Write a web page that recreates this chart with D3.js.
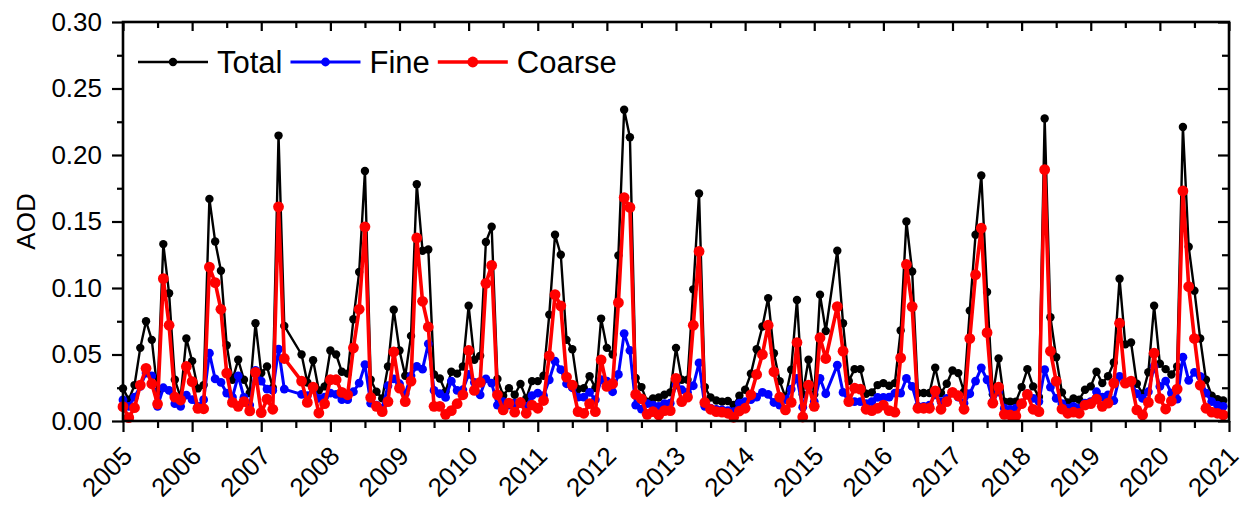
<!DOCTYPE html>
<html><head><meta charset="utf-8">
<script src="https://cdn.jsdelivr.net/npm/d3@7"></script>
<style>
body{margin:0;background:#fff}
text{font-family:"Liberation Sans",Arial,Helvetica,sans-serif;fill:#000}
</style>
</head><body>
<svg id="chart" width="1249" height="510"></svg>
<script>
// ---- data (monthly, Jan 2005 .. Dec 2020; null = no data) ----
const startYear = 2005;
const endYear = 2021;
const yTickValues = [0, 0.05, 0.10, 0.15, 0.20, 0.25, 0.30];
const xTickYears = [2005,2006,2007,2008,2009,2010,2011,2012,2013,2014,2015,2016,2017,2018,2019,2020,2021];
const seriesNames = ["Total", "Fine", "Coarse"];
const seriesColors = ["#000000", "#0000ff", "#ff0000"];

const total = [
0.0245,0.016,0.027,0.055,0.075,0.061,0.022,0.133,0.096,0.031,0.018,0.062,
0.045,0.0245,0.027,0.167,0.135,0.113,0.057,0.031,0.046,0.031,0.021,0.0735,
0.036,0.041,0.025,0.2146,0.0715,null,null,0.050,0.029,0.0457,0.023,0.026,
0.053,0.050,0.037,0.0356,0.0765,0.112,0.188,0.031,0.022,0.017,0.041,0.0836,
0.053,0.034,0.064,0.178,0.128,0.129,0.035,0.032,0.022,0.037,0.0356,0.041,
0.0866,0.046,0.049,0.1346,0.146,0.0316,0.019,0.0247,0.0197,0.0278,0.017,0.030,
0.030,0.034,0.080,0.140,0.125,0.061,0.054,0.024,0.0247,0.0336,0.0247,0.077,
0.055,0.050,0.1245,0.234,0.2134,0.0323,0.0255,0.0146,0.017,0.0177,0.0197,0.0215,
0.055,0.031,0.031,0.099,0.171,0.0255,0.0177,0.0154,0.0146,0.015,0.012,0.019,
0.0235,0.0356,0.054,0.071,0.0924,0.051,0.030,0.018,0.0386,0.091,0.020,0.046,
0.020,0.095,0.0677,null,0.128,0.0735,0.030,0.039,0.039,0.0205,0.0215,0.027,
0.0285,0.0265,0.0285,0.068,0.150,0.1124,0.021,0.021,0.021,0.040,0.021,0.028,
0.038,0.036,0.022,0.083,0.140,0.1846,0.097,0.020,0.047,0.0146,0.0146,0.0146,
0.0255,0.039,0.026,0.018,0.2275,0.078,0.048,0.0215,0.0139,0.017,0.016,0.0235,
0.026,0.037,0.0285,0.0336,0.044,0.107,0.0576,0.059,0.028,0.0205,0.0366,0.0866,
0.043,0.039,0.035,0.041,0.221,0.131,0.098,0.062,0.031,0.019,0.0164,0.0154
];

const fine = [
0.0158,0.011,0.018,0.026,0.036,0.034,0.011,0.025,0.023,0.013,0.011,0.0195,
0.016,0.011,0.016,0.051,0.0316,0.029,0.021,0.018,0.034,0.0177,0.012,0.038,
0.030,0.024,0.023,0.054,0.024,null,null,0.020,0.019,0.0245,0.017,0.018,
0.021,0.020,0.016,0.016,0.022,0.0285,0.0424,0.0134,0.012,0.0096,0.0265,0.0316,
0.028,0.0205,0.034,0.041,0.039,0.058,0.023,0.0205,0.0177,0.030,0.023,0.0235,
0.035,0.029,0.0197,0.0316,0.0285,0.012,0.0146,0.012,0.0134,0.013,0.011,0.019,
0.021,0.019,0.031,0.045,0.0386,0.028,0.025,0.018,0.018,0.0215,0.016,0.031,
0.030,0.022,0.035,0.0657,0.053,0.012,0.009,0.013,0.012,0.011,0.013,0.0134,
0.027,0.0235,0.0215,0.0265,0.0437,0.011,0.0096,0.0088,0.0083,0.0078,0.007,0.0134,
0.0146,0.016,0.018,0.0215,0.020,0.0139,0.012,0.016,0.024,0.032,0.0104,0.026,
0.0146,0.032,0.0205,null,0.042,0.0215,0.0146,0.0146,0.0146,0.013,0.0146,0.0177,
0.0177,0.018,0.021,0.021,0.032,0.026,0.011,0.011,0.012,0.0197,0.0146,0.017,
0.0215,0.018,0.0134,0.0205,0.030,0.040,0.031,0.0146,0.022,0.0096,0.0088,0.0096,
0.0134,0.0205,0.017,0.0146,0.0386,0.0255,0.017,0.013,0.0096,0.011,0.0096,0.0134,
0.0146,0.022,0.018,0.0197,0.0154,0.0336,0.0285,0.029,0.0205,0.017,0.022,0.041,
0.026,0.030,0.021,0.0164,0.048,0.0306,0.0366,0.0336,0.021,0.0146,0.012,0.011
];

const coarse = [
0.0108,0.0025,0.010,0.027,0.0396,0.028,0.0128,0.107,0.072,0.018,0.0158,0.041,
0.0296,0.0095,0.0092,0.1157,0.104,0.084,0.036,0.014,0.011,0.0146,0.0076,0.0366,
0.0063,0.0164,0.0088,0.161,0.047,null,null,0.030,0.014,0.0255,0.006,0.013,
0.031,0.031,0.0215,0.0197,0.055,0.084,0.146,0.0177,0.011,0.007,0.0146,0.052,
0.0247,0.0146,0.030,0.1376,0.090,0.0707,0.011,0.011,0.005,0.0078,0.013,0.0197,
0.053,0.023,0.029,0.1035,0.117,0.0197,0.0083,0.0134,0.0066,0.0139,0.0058,0.012,
0.0096,0.0154,0.049,0.095,0.0866,0.033,0.027,0.007,0.0058,0.013,0.007,0.046,
0.026,0.028,0.089,0.168,0.1606,0.020,0.0167,0.005,0.007,0.0045,0.0078,0.0078,
0.032,0.0146,0.018,0.072,0.1275,0.0139,0.0088,0.007,0.0066,0.0058,0.0028,0.0075,
0.0096,0.0197,0.035,0.050,0.072,0.037,0.018,0.0083,0.014,0.059,0.003,0.027,
0.011,0.0626,0.047,null,0.086,0.0525,0.0146,0.0247,0.024,0.0088,0.0078,0.0096,
0.012,0.0078,0.0066,0.0475,0.1177,0.086,0.0096,0.0096,0.0096,0.0227,0.0088,0.0146,
0.0215,0.019,0.0088,0.062,0.110,0.145,0.0664,0.0134,0.0255,0.005,0.0045,0.0038,
0.013,0.020,0.0088,0.007,0.189,0.0525,0.030,0.009,0.0058,0.0066,0.0058,0.012,
0.013,0.0164,0.011,0.0134,0.0285,0.0735,0.0285,0.030,0.0083,0.0045,0.014,0.051,
0.017,0.009,0.015,0.024,0.173,0.101,0.062,0.027,0.0096,0.0066,0.0058,0.0045
];

// ---- layout ----
const W = 1249, H = 510;
const margin = {left: 123, right: 20, top: 22, bottom: 89};
const svg = d3.select("#chart");

const x = d3.scaleLinear().domain([startYear, endYear]).range([margin.left, W - margin.right]);
const y = d3.scaleLinear().domain([0, 0.30]).range([H - margin.bottom, margin.top]);

const toPoints = arr => arr.map((v, i) => ({t: startYear + i / 12, v}))
                           .filter(d => d.v !== null);
const seriesData = [toPoints(total), toPoints(fine), toPoints(coarse)];
const styles = [
  {lw: 2.4, r: 4.2},
  {lw: 3.0, r: 4.4},
  {lw: 3.6, r: 5.4}
];

// ---- marks ----
const line = d3.line().x(d => x(d.t)).y(d => y(d.v));
seriesData.forEach((pts, k) => {
  const g = svg.append("g");
  g.append("path").datum(pts)
    .attr("d", line).attr("fill", "none")
    .attr("stroke", seriesColors[k]).attr("stroke-width", styles[k].lw)
    .attr("stroke-linejoin", "round");
  g.selectAll("circle").data(pts).join("circle")
    .attr("cx", d => x(d.t)).attr("cy", d => y(d.v))
    .attr("r", styles[k].r).attr("fill", seriesColors[k]);
});

// ---- axes ----
const minorX = d3.range(startYear + 0.5, endYear, 1);
const minorY = d3.range(0.025, 0.30, 0.05);
const fontTick = 26;

// bottom
const gB = svg.append("g").attr("transform", `translate(0,${y(0)})`)
  .call(d3.axisBottom(x).tickValues(xTickYears).tickSize(11).tickFormat(d3.format("d")));
gB.append("g").call(d3.axisBottom(x).tickValues(minorX).tickSize(7).tickFormat(""));
gB.selectAll("text")
  .style("font-size", fontTick + "px")
  .attr("text-anchor", "end")
  .attr("y", 0).attr("dy", "0.35em")
  .attr("transform", "translate(4,30) rotate(-45)");

// left
const gL = svg.append("g").attr("transform", `translate(${x(startYear)},0)`)
  .call(d3.axisLeft(y).tickValues(yTickValues).tickSize(11).tickPadding(10).tickFormat(d3.format(".2f")));
gL.append("g").call(d3.axisLeft(y).tickValues(minorY).tickSize(6).tickFormat(""));
gL.selectAll("text").style("font-size", fontTick + "px");

// top (inward)
const gT = svg.append("g").attr("transform", `translate(0,${y(0.30)})`)
  .call(d3.axisBottom(x).tickValues(xTickYears).tickSize(9).tickFormat(""));
gT.append("g").call(d3.axisBottom(x).tickValues(minorX).tickSize(6).tickFormat(""));

// right (inward)
const gR = svg.append("g").attr("transform", `translate(${x(endYear)},0)`)
  .call(d3.axisLeft(y).tickValues(yTickValues).tickSize(11).tickFormat(""));
gR.append("g").call(d3.axisLeft(y).tickValues(minorY).tickSize(7).tickFormat(""));

[gB, gL, gT, gR].forEach(g => {
  g.selectAll("line").attr("stroke", "#000").attr("stroke-width", 2.2);
});
svg.selectAll(".domain").remove();
svg.append("rect")
  .attr("x", x(startYear)).attr("y", y(0.30))
  .attr("width", x(endYear) - x(startYear)).attr("height", y(0) - y(0.30))
  .attr("fill", "none").attr("stroke", "#000").attr("stroke-width", 2.6);

// y title
svg.append("text")
  .attr("transform", `translate(35,${(y(0) + y(0.30)) / 2}) rotate(-90)`)
  .attr("text-anchor", "middle")
  .style("font-size", "26px")
  .text("AOD");

// ---- legend ----
const legY = 62;
let lx = 138;
const legLine = 70, legGap = 9, legAfter = 8;
seriesNames.forEach((name, k) => {
  const g = svg.append("g");
  g.append("line").attr("x1", lx).attr("x2", lx + legLine)
    .attr("y1", legY).attr("y2", legY)
    .attr("stroke", seriesColors[k]).attr("stroke-width", styles[k].lw);
  g.append("circle").attr("cx", lx + legLine / 2).attr("cy", legY)
    .attr("r", styles[k].r).attr("fill", seriesColors[k]);
  const t = g.append("text").attr("x", lx + legLine + legGap).attr("y", legY)
    .attr("dy", "0.36em").style("font-size", "31px").text(name);
  lx = lx + legLine + legGap + t.node().getComputedTextLength() + legAfter;
});
</script>
</body></html>
